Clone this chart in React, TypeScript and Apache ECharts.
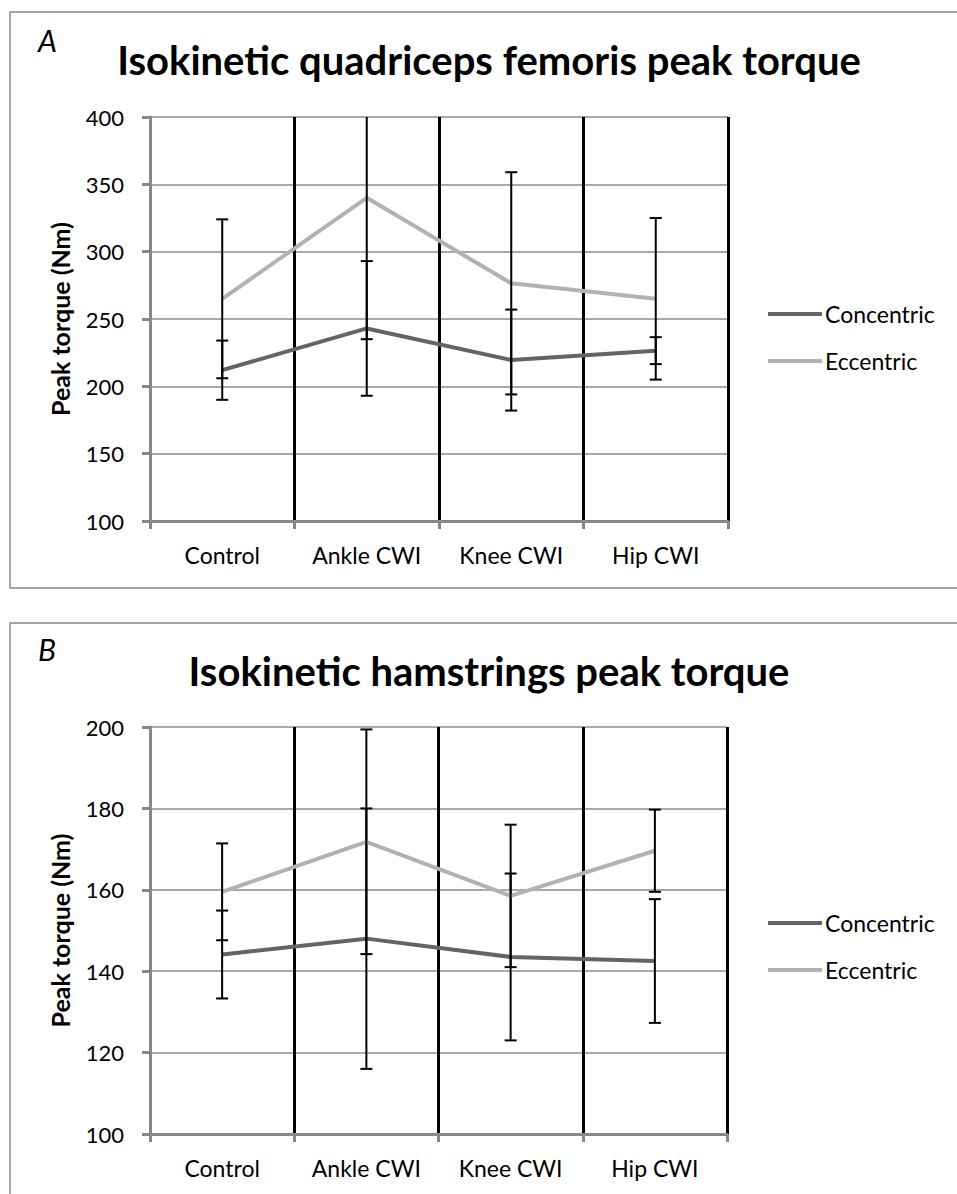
import React, { useEffect, useRef } from "react";
import * as echarts from "echarts";

const categories = ["Control", "Ankle CWI", "Knee CWI", "Hip CWI"];
const seriesNames = ["Concentric", "Eccentric"];

// Panel A: quadriceps
const quadConcentric = [212, 243, 219.5, 226.5];
const quadConcentricErr = [22, 50, 37.5, 10];
const quadEccentric = [265, 340, 276.5, 265];
const quadEccentricErr = [59, 105, 82.5, 60];

// Panel B: hamstrings
const hamConcentric = [144.1, 148, 143.5, 142.5];
const hamConcentricErr = [10.8, 32, 20.5, 15.2];
const hamEccentric = [159.5, 171.8, 158.5, 169.6];
const hamEccentricErr = [11.9, 27.6, 17.5, 10.1];

const quadAxis = { min: 100, max: 400, interval: 50 };
const hamAxis = { min: 100, max: 200, interval: 20 };

const FONT = "Lato";
const GRAY_AXIS = "#888888";
const GRAY_GRID = "#8c8c8c";
const COL_CON = "#646464";
const COL_ECC = "#b2b2b2";

function errData(means: number[], errs: number[]) {
  return means.map((m, i) => [i, m - errs[i], m + errs[i]]);
}

function makeErrRender(min: number, max: number) {
  return (params: any, api: any) => {
    const cat = api.value(0);
    const lo = api.value(1);
    const hi = api.value(2);
    const loC = Math.max(lo, min);
    const hiC = Math.min(hi, max);
    const pLo = api.coord([cat, loC]);
    const pHi = api.coord([cat, hiC]);
    const cap = 6;
    const st = { stroke: "#000", lineWidth: 2 };
    const children: any[] = [
      { type: "line", shape: { x1: pLo[0], y1: pLo[1], x2: pHi[0], y2: pHi[1] }, style: st },
    ];
    if (hi <= max) {
      children.push({ type: "line", shape: { x1: pHi[0] - cap, y1: pHi[1], x2: pHi[0] + cap, y2: pHi[1] }, style: st });
    }
    if (lo >= min) {
      children.push({ type: "line", shape: { x1: pLo[0] - cap, y1: pLo[1], x2: pLo[0] + cap, y2: pLo[1] }, style: st });
    }
    return { type: "group", children };
  };
}

function buildOption() {
  const grids = [
    { left: 150, top: 117, width: 578, height: 404 },
    { left: 150, top: 727, width: 577, height: 407 },
  ];
  const axes = [quadAxis, hamAxis];

  const xAxis: any[] = grids.map((_, gi) => ({
    type: "category",
    gridIndex: gi,
    data: categories,
    boundaryGap: true,
    z: 1,
    axisLine: { show: true, lineStyle: { color: GRAY_AXIS, width: 3 } },
    axisTick: { show: true, interval: 0, length: 8, lineStyle: { color: GRAY_AXIS, width: 3 } },
    axisLabel: { interval: 0, color: "#000", fontFamily: FONT, fontSize: 23, margin: 22 },
    splitLine: { show: true, interval: 0, lineStyle: { color: "#000", width: 3 } },
  }));

  const yAxis: any[] = [];
  axes.forEach((ax, gi) => {
    yAxis.push({
      type: "value",
      gridIndex: gi,
      min: ax.min,
      max: ax.max,
      interval: ax.interval,
      position: "left",
      z: 2,
      name: "Peak torque (Nm)",
      nameLocation: "middle",
      nameGap: 78,
      nameRotate: 90,
      nameTextStyle: { color: "#000", fontFamily: FONT, fontSize: 25, fontWeight: "bold" },
      axisLine: { show: true, lineStyle: { color: GRAY_AXIS, width: 3 } },
      axisTick: { show: true, length: 8, lineStyle: { color: GRAY_AXIS, width: 3 } },
      axisLabel: { color: "#000", fontFamily: FONT, fontSize: 22, margin: 26 },
      splitLine: { show: false },
    });
  });
  axes.forEach((ax, gi) => {
    yAxis.push({
      type: "value",
      gridIndex: gi,
      min: ax.min,
      max: ax.max,
      interval: ax.interval,
      position: "left",
      z: 0,
      axisLine: { show: false },
      axisTick: { show: false },
      axisLabel: { show: false },
      splitLine: { show: true, lineStyle: { color: GRAY_GRID, width: 1.5 } },
    });
  });

  const lineSeries = (name: string, data: number[], color: string, gi: number, z: number) => ({
    type: "line",
    name,
    xAxisIndex: gi,
    yAxisIndex: gi,
    data,
    symbol: "none",
    showSymbol: false,
    z,
    lineStyle: { color, width: 4 },
    itemStyle: { color },
  });
  const errSeries = (data: number[][], gi: number, z: number) => ({
    type: "custom",
    xAxisIndex: gi,
    yAxisIndex: gi,
    data,
    z,
    encode: { x: 0, y: [1, 2] },
    renderItem: makeErrRender(axes[gi].min, axes[gi].max),
    silent: true,
  });

  const series: any[] = [
    lineSeries(seriesNames[0], quadConcentric, COL_CON, 0, 3),
    errSeries(errData(quadConcentric, quadConcentricErr), 0, 4),
    lineSeries(seriesNames[1], quadEccentric, COL_ECC, 0, 5),
    errSeries(errData(quadEccentric, quadEccentricErr), 0, 6),
    lineSeries(seriesNames[0], hamConcentric, COL_CON, 1, 3),
    errSeries(errData(hamConcentric, hamConcentricErr), 1, 4),
    lineSeries(seriesNames[1], hamEccentric, COL_ECC, 1, 5),
    errSeries(errData(hamEccentric, hamEccentricErr), 1, 6),
  ];

  const legendBase = {
    orient: "vertical",
    left: 768,
    padding: 0,
    itemWidth: 54,
    itemHeight: 4,
    itemGap: 21,
    icon: "rect",
    selectedMode: false,
    data: seriesNames,
    textStyle: { color: "#000", fontFamily: FONT, fontSize: 23, lineHeight: 26, padding: [0, 0, 0, -2] },
  };

  return {
    animation: false,
    backgroundColor: "#fff",
    grid: grids.map((g) => ({ ...g, containLabel: false })),
    xAxis,
    yAxis,
    series,
    legend: [
      { ...legendBase, top: 301 },
      { ...legendBase, top: 910 },
    ],
    graphic: [
      { type: "rect", shape: { x: 10, y: 12, width: 960, height: 576 }, style: { fill: "none", stroke: GRAY_AXIS, lineWidth: 1.5 }, silent: true },
      { type: "rect", shape: { x: 10, y: 623, width: 960, height: 600 }, style: { fill: "none", stroke: GRAY_AXIS, lineWidth: 1.5 }, silent: true },
      { type: "text", x: 38, y: 40, style: { text: "A", fontFamily: FONT, fontSize: 30, fontStyle: "italic", fill: "#000", verticalAlign: "middle", align: "left" } },
      { type: "text", x: 489, y: 60, style: { text: "Isokinetic quadriceps femoris peak torque", fontFamily: FONT, fontSize: 40, fontWeight: "bold", fill: "#000", verticalAlign: "middle", align: "center" } },
      { type: "text", x: 38, y: 649, style: { text: "B", fontFamily: FONT, fontSize: 30, fontStyle: "italic", fill: "#000", verticalAlign: "middle", align: "left" } },
      { type: "text", x: 489, y: 671, style: { text: "Isokinetic hamstrings peak torque", fontFamily: FONT, fontSize: 40, fontWeight: "bold", fill: "#000", verticalAlign: "middle", align: "center" } },
    ],
  };
}

export default function App() {
  const ref = useRef<HTMLDivElement>(null);
  useEffect(() => {
    if (!ref.current) return;
    const chart = echarts.init(ref.current, null, { renderer: "svg" });
    chart.setOption(buildOption() as any);
    return () => chart.dispose();
  }, []);
  return (
    <div
      ref={ref}
      style={{ position: "absolute", left: 0, top: 0, width: 957, height: 1194, background: "#fff" }}
    />
  );
}
